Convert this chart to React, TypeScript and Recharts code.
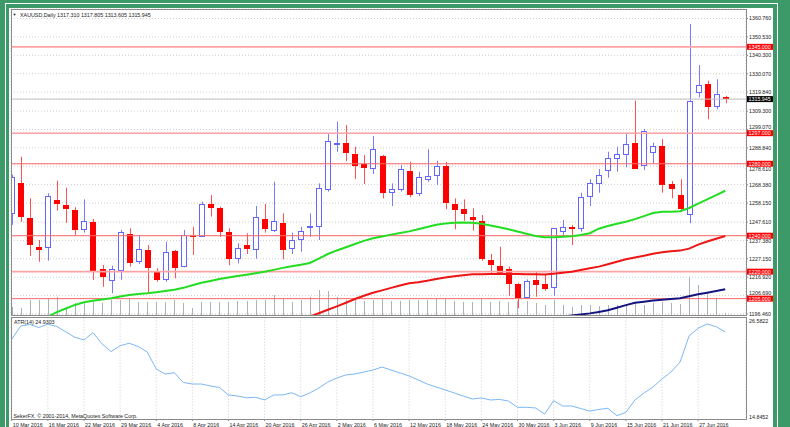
import React from 'react';
import {
  ComposedChart,
  Bar,
  Line,
  XAxis,
  YAxis,
  CartesianGrid,
  ReferenceLine,
} from 'recharts';

// XAUUSD daily, 10 Mar 2016 .. 30 Jun 2016 (one entry per bar)
const dateLabels = [
  '10 Mar 2016', '16 Mar 2016', '22 Mar 2016', '29 Mar 2016', '4 Apr 2016',
  '8 Apr 2016', '14 Apr 2016', '20 Apr 2016', '26 Apr 2016', '2 May 2016',
  '6 May 2016', '12 May 2016', '18 May 2016', '24 May 2016', '30 May 2016',
  '3 Jun 2016', '9 Jun 2016', '15 Jun 2016', '21 Jun 2016', '27 Jun 2016',
];
const labelIdx = [0, 4, 8, 12, 16, 20, 24, 28, 32, 36, 40, 44, 48, 52, 56, 60, 64, 68, 72, 76];

const opens = [
  1252.1, 1269.1, 1249.7, 1233.7, 1233.0, 1260.0, 1256.9, 1254.3, 1242.9, 1247.8,
  1221.5, 1215.0, 1220.2, 1240.8, 1225.5, 1231.9, 1220.5, 1215.2, 1231.5, 1222.8,
  1239.7, 1239.5, 1257.8, 1255.2, 1242.0, 1226.9, 1234.7, 1231.9, 1249.4, 1242.6,
  1247.2, 1232.4, 1237.6, 1244.1, 1245.0, 1265.4, 1290.4, 1291.4, 1285.4, 1279.7,
  1277.0, 1284.3, 1263.6, 1265.4, 1276.1, 1263.0, 1270.9, 1273.2, 1278.8, 1257.6,
  1254.9, 1250.6, 1248.3, 1226.5, 1223.2, 1221.7, 1213.0, 1205.5, 1215.4, 1213.0,
  1210.8, 1242.2, 1244.9, 1243.7, 1261.7, 1268.6, 1276.0, 1282.6, 1284.7, 1291.4,
  1278.9, 1285.8, 1289.9, 1268.7, 1262.6, 1251.3, 1319.3, 1324.3, 1311.4, 1317.31,
];
const highs = [
  1274.0, 1283.9, 1260.8, 1237.6, 1263.6, 1270.6, 1266.7, 1255.8, 1260.2, 1249.3,
  1223.7, 1223.3, 1243.2, 1244.1, 1240.4, 1234.8, 1221.9, 1236.7, 1232.1, 1243.2,
  1245.0, 1258.9, 1262.6, 1256.1, 1244.1, 1235.8, 1241.3, 1256.5, 1257.6, 1270.0,
  1252.4, 1241.7, 1245.0, 1252.4, 1269.1, 1296.9, 1303.4, 1301.5, 1289.5, 1284.9,
  1295.4, 1284.9, 1269.1, 1279.3, 1281.1, 1275.6, 1288.0, 1281.7, 1281.1, 1260.8,
  1260.2, 1255.2, 1251.5, 1229.8, 1233.9, 1222.8, 1213.9, 1215.7, 1220.0, 1218.1,
  1244.1, 1248.7, 1245.9, 1263.9, 1271.4, 1277.1, 1286.7, 1289.5, 1296.5, 1315.1,
  1299.3, 1291.7, 1293.8, 1270.4, 1271.4, 1357.7, 1334.9, 1326.2, 1327.0, 1317.805,
];
const lows = [
  1246.0, 1247.8, 1228.7, 1225.5, 1226.1, 1253.9, 1247.2, 1240.4, 1241.7, 1215.4,
  1211.6, 1208.0, 1215.4, 1222.8, 1224.3, 1208.3, 1214.4, 1214.4, 1216.3, 1222.4,
  1229.3, 1239.3, 1250.6, 1239.4, 1223.5, 1224.6, 1229.8, 1227.2, 1241.7, 1242.0,
  1226.9, 1229.8, 1231.1, 1239.4, 1237.6, 1264.5, 1286.7, 1281.5, 1271.5, 1268.7,
  1274.3, 1260.8, 1256.5, 1264.5, 1261.3, 1262.0, 1270.0, 1268.2, 1254.7, 1243.6,
  1248.3, 1242.8, 1226.1, 1218.1, 1218.1, 1206.5, 1199.6, 1205.0, 1206.1, 1209.4,
  1206.5, 1239.8, 1234.8, 1242.2, 1256.5, 1263.9, 1272.3, 1275.6, 1278.0, 1277.0,
  1276.5, 1280.3, 1263.9, 1260.8, 1253.3, 1246.9, 1316.9, 1304.7, 1310.3, 1313.605,
];
const closes = [
  1272.8, 1250.2, 1234.8, 1232.2, 1261.9, 1257.5, 1255.0, 1243.2, 1247.9, 1220.0,
  1217.2, 1221.3, 1241.9, 1224.6, 1232.4, 1222.2, 1215.4, 1231.1, 1222.2, 1240.2,
  1239.5, 1257.5, 1255.2, 1242.2, 1227.0, 1233.3, 1232.4, 1250.2, 1243.9, 1248.0,
  1231.9, 1237.6, 1242.8, 1245.4, 1266.4, 1292.6, 1291.4, 1286.2, 1278.9, 1277.5,
  1288.0, 1263.6, 1265.8, 1276.9, 1262.6, 1272.8, 1273.2, 1278.6, 1258.0, 1254.3,
  1252.1, 1248.7, 1226.9, 1223.9, 1219.4, 1213.0, 1205.2, 1214.8, 1212.4, 1210.5,
  1244.1, 1244.7, 1243.6, 1261.4, 1269.1, 1273.6, 1283.4, 1285.4, 1290.8, 1277.1,
  1298.0, 1289.9, 1268.2, 1265.8, 1255.0, 1314.9, 1323.6, 1311.5, 1318.6, 1315.945,
];
const volumes = [
  7800, 6900, 14700, 14600, 16700, 17600, 7900, 11800, 11700, 12800,
  11900, 14800, 14700, 15700, 12700, 12800, 12900, 12600, 14800, 11800,
  6900, 12700, 12800, 12700, 12900, 13700, 13800, 14600, 14800, 19600,
  16700, 12800, 14700, 17600, 24500, 23600, 17700, 14800, 14700, 13800,
  14700, 15600, 13700, 13800, 14800, 14600, 14700, 15800, 15600, 13800,
  12800, 12700, 15700, 12800, 13700, 12800, 13800, 13700, 11800, 9800,
  14700, 9900, 7800, 9800, 9900, 8800, 9800, 9900, 10800, 11800,
  9800, 11700, 12800, 11800, 10800, 37300, 29400, 21600, 16700, 2100,
];

// moving averages (green / red / navy)
const maFast = [
  null, null, null, null, 1195.0, 1197.5, 1199.5, 1201.5, 1203.0, 1203.8,
  1204.5, 1205.2, 1206.2, 1207.0, 1207.6, 1208.0, 1208.6, 1209.3, 1209.9, 1211.0,
  1212.4, 1213.8, 1214.8, 1215.9, 1216.8, 1217.6, 1218.3, 1219.1, 1220.0, 1221.0,
  1222.1, 1223.0, 1223.8, 1224.8, 1227.2, 1229.8, 1231.8, 1233.6, 1235.4, 1237.1,
  1238.6, 1239.6, 1240.6, 1241.5, 1242.4, 1243.6, 1244.8, 1246.1, 1246.8, 1247.2,
  1247.3, 1247.2, 1246.6, 1245.7, 1244.7, 1243.6, 1242.3, 1241.1, 1239.8, 1239.1,
  1239.2, 1239.4, 1239.7, 1240.4, 1241.4, 1243.9, 1245.4, 1246.6, 1247.8, 1249.2,
  1250.9, 1252.6, 1253.3, 1253.3, 1253.6, 1255.4, 1257.8, 1260.2, 1262.6, 1265.0,
];
const maMid = [
  null, null, null, null, null, null, null, null, null, null,
  null, null, null, null, null, null, null, null, null, null,
  null, null, null, null, null, null, null, null, null, null,
  null, null, null, 1195.0, 1196.9, 1198.8, 1200.7, 1202.7, 1204.8, 1206.6,
  1208.3, 1209.6, 1211.0, 1212.3, 1213.5, 1214.1, 1214.9, 1215.9, 1216.8, 1217.5,
  1218.0, 1218.5, 1218.6, 1218.7, 1218.7, 1218.7, 1218.7, 1218.6, 1218.5, 1218.4,
  1218.9, 1219.4, 1220.0, 1220.9, 1221.9, 1222.8, 1224.1, 1225.5, 1226.9, 1227.9,
  1228.9, 1230.0, 1230.8, 1231.3, 1231.7, 1232.8, 1235.0, 1236.8, 1238.3, 1239.8,
];
const maSlow = [
  null, null, null, null, null, null, null, null, null, null,
  null, null, null, null, null, null, null, null, null, null,
  null, null, null, null, null, null, null, null, null, null,
  null, null, null, null, null, null, null, null, null, null,
  null, null, null, null, null, null, null, null, null, null,
  null, null, null, null, null, null, null, null, null, null,
  null, 1195.0, 1195.6, 1196.2, 1196.8, 1197.6, 1198.5, 1199.9, 1201.4, 1202.7,
  1203.3, 1203.9, 1204.4, 1204.8, 1205.2, 1206.3, 1207.4, 1208.3, 1209.2, 1210.2,
];

const atrValues = [
  24.08, 25.62, 25.80, 25.45, 25.82, 25.57, 24.93, 24.31, 24.00, 24.85,
  23.54, 22.65, 23.34, 23.62, 23.25, 22.61, 20.64, 20.06, 20.21, 19.08,
  18.90, 18.90, 18.67, 18.50, 17.63, 17.51, 17.31, 17.36, 17.05, 17.63,
  17.63, 17.89, 17.43, 17.86, 18.44, 19.13, 19.60, 19.95, 20.06, 20.29,
  20.52, 20.87, 20.52, 20.18, 19.83, 19.37, 18.90, 18.55, 18.21, 17.86,
  17.51, 17.16, 17.28, 17.05, 17.11, 16.93, 16.20, 16.20, 16.12, 15.42,
  16.97, 16.35, 16.35, 16.06, 15.77, 15.95, 16.09, 15.23, 15.62, 17.05,
  17.85, 18.55, 19.48, 20.29, 21.45, 24.47, 25.36, 25.86, 25.54, 24.93,
];

const priceTicks = [
  1196.46, 1206.69, 1216.92, 1227.15, 1237.38, 1247.61, 1258.15, 1268.38, 1278.61,
  1288.84, 1299.07, 1309.3, 1319.84, 1330.07, 1340.3, 1350.53, 1360.76,
];
const priceDomain = [1195.9, 1366.05];
const atrTicks = [14.8452, 26.5822];
const levels = [1345, 1297, 1280, 1240, 1220, 1205];
const softLevels = [1345, 1297, 1220];
const lastPrice = 1315.945;
const tagTicks = [lastPrice, ...levels];

// scale labels that sit next to a tag get nudged so they peek out beside it
const labelNudge: Record<string, number> = {
  '1278.61': 3.2,
  '1299.07': -2.6,
  '1206.69': -2.8,
  '1237.38': 1,
};

const FONT = '"Liberation Sans", Arial, sans-serif';
const FS = 5.35;
const GREEN = '#3b9a68';
const FRAME = '#8a8a8a';
const GRID = '#cdcdcd';
const BULL = '#6464ff';
const BEAR = '#ff0000';
const X_MIN = -0.08;
const X_MAX = 81.3;

const rows = opens.map((open, i) => ({
  i,
  open,
  high: highs[i],
  low: lows[i],
  close: closes[i],
  vol: volumes[i],
  maFast: maFast[i],
  maMid: maMid[i],
  maSlow: maSlow[i],
  atr: atrValues[i],
}));

const Candle = (props: any) => {
  const { x, y, width, height, payload } = props;
  if (!payload || height == null) return null;
  const top = Math.min(y, y + height);
  const h = Math.abs(height);
  const { open, close, high, low } = payload;
  const k = h / (high - low);
  const yO = top + (high - open) * k;
  const yC = top + (high - close) * k;
  const px = Math.round(x + width / 2);
  const bTop = Math.round(Math.min(yO, yC));
  const bBot = Math.max(Math.round(Math.max(yO, yC)), bTop + 1);
  const up = close >= open;
  if (up) {
    return (
      <g>
        <line x1={px + 0.5} x2={px + 0.5} y1={top} y2={top + h} stroke="#7a7aff" />
        <rect x={px - 2.5} y={bTop + 0.5} width={5} height={Math.max(bBot - bTop - 1, 0)} fill="#fff" stroke={BULL} />
      </g>
    );
  }
  return (
    <g>
      <line x1={px + 0.5} x2={px + 0.5} y1={top} y2={top + h} stroke="#ff5050" />
      <rect x={px - 3} y={bTop} width={6} height={bBot - bTop} fill={BEAR} />
    </g>
  );
};

const VolumeStick = (props: any) => {
  const { x, y, width, height } = props;
  if (height == null) return null;
  const px = Math.round(x + width / 2);
  return <rect x={px} y={Math.min(y, y + height)} width={1} height={Math.abs(height)} fill="#a9b1ba" />;
};

// scale labels; the horizontal-line prices are drawn last as coloured tags on top
const PriceTick = (props: any) => {
  const { x, y, payload } = props;
  const v = Number(payload.value);
  if (tagTicks.includes(v)) {
    const bg = v === lastPrice ? '#000' : '#ff0000';
    return (
      <g>
        <rect x={x - 2} y={y - 3} width={26} height={6} fill={bg} />
        <text x={x - 0.5} y={y + 1.9} fontSize={FS} fontFamily={FONT} fill="#fff">{v.toFixed(3)}</text>
      </g>
    );
  }
  const dy = labelNudge[String(v)] || 0;
  return (
    <text x={x} y={y + 1.9 + dy} fontSize={FS} fontFamily={FONT} fill="#1a1a1a">
      {v.toFixed(3)}
    </text>
  );
};

const AtrTick = (props: any) => {
  const { x, y, payload } = props;
  const dy = payload.value === atrTicks[1] ? 5.2 : 0;
  return (
    <text x={x} y={y + dy} fontSize={FS} fontFamily={FONT} fill="#1a1a1a">
      {Number(payload.value).toFixed(4)}
    </text>
  );
};

const DateTick = (props: any) => {
  const { x, y, payload } = props;
  const k = labelIdx.indexOf(payload.value);
  return (
    <text x={x + 1} y={y + 5.5} fontSize={FS} fontFamily={FONT} fill="#1a1a1a">
      {k >= 0 ? dateLabels[k] : ''}
    </text>
  );
};

export default function App() {
  return (
    <div
      style={{
        position: 'absolute',
        left: 0,
        top: 0,
        width: 790,
        height: 427,
        background: GREEN,
        overflow: 'hidden',
      }}
    >
      <div style={{ position: 'absolute', left: 5, top: 3, width: 1, height: 424, background: '#fff' }} />
      <div style={{ position: 'absolute', left: 5, top: 3, width: 773, height: 1, background: '#fff' }} />
      <div style={{ position: 'absolute', left: 777, top: 3, width: 1, height: 424, background: '#fff' }} />
      <div style={{ position: 'absolute', left: 9, top: 8, width: 764, height: 419, background: '#fff' }} />

      {/* price panel */}
      <div style={{ position: 'absolute', left: 0, top: 0 }}>
        <ComposedChart width={790} height={316} data={rows} margin={{ top: 9, right: 0, left: 11, bottom: 1 }}>
          <CartesianGrid strokeDasharray="1 2" stroke={GRID} />
          <XAxis
            type="number"
            dataKey="i"
            domain={[X_MIN, X_MAX]}
            allowDataOverflow
            ticks={labelIdx}
            interval={0}
            height={0}
            tick={false}
            axisLine={false}
            tickLine={false}
          />
          <XAxis xAxisId="vol" type="number" dataKey="i" domain={[X_MIN, X_MAX]} allowDataOverflow hide />
          <YAxis
            orientation="right"
            width={44}
            domain={priceDomain}
            allowDataOverflow
            ticks={[...priceTicks, ...tagTicks]}
            interval={0}
            axisLine={false}
            tickSize={2}
            tickMargin={1}
            tickLine={{ stroke: FRAME }}
            tick={<PriceTick />}
          />
          <YAxis yAxisId="vol" domain={[0, 300000]} hide />
          <ReferenceLine y={lastPrice} stroke="#c4c4c4" />
          {levels.map((lv) => (
            <ReferenceLine
              key={lv}
              y={lv}
              stroke={softLevels.includes(lv) ? '#ffa4a4' : '#ff6a6a'}
              strokeWidth={softLevels.includes(lv) ? 1.6 : 1}
            />
          ))}
          <Bar
            xAxisId="vol"
            yAxisId="vol"
            dataKey="vol"
            barSize={1}
            shape={(p: any) => <VolumeStick {...p} />}
            isAnimationActive={false}
          />
          <Bar
            dataKey={(d: any) => [d.low, d.high]}
            barSize={6}
            shape={(p: any) => <Candle {...p} />}
            isAnimationActive={false}
          />
          <Line dataKey="maFast" stroke="#22dd22" strokeWidth={2} dot={false} isAnimationActive={false} />
          <Line dataKey="maMid" stroke="#ee1515" strokeWidth={2} dot={false} isAnimationActive={false} />
          <Line dataKey="maSlow" stroke="#14147f" strokeWidth={2} dot={false} isAnimationActive={false} />
        </ComposedChart>
      </div>

      {/* ATR panel */}
      <div style={{ position: 'absolute', left: 0, top: 316 }}>
        <ComposedChart width={790} height={111} data={rows} margin={{ top: 1.7, right: 0, left: 11, bottom: 0 }}>
          <CartesianGrid horizontal={false} strokeDasharray="1 2" stroke={GRID} />
          <XAxis
            type="number"
            dataKey="i"
            domain={[X_MIN, X_MAX]}
            allowDataOverflow
            ticks={labelIdx}
            interval={0}
            height={8}
            axisLine={false}
            tickSize={2}
            tickMargin={0}
            tickLine={{ stroke: FRAME }}
            tick={<DateTick />}
          />
          <YAxis
            orientation="right"
            width={44}
            domain={atrTicks}
            allowDataOverflow
            ticks={atrTicks}
            interval={0}
            axisLine={false}
            tickLine={false}
            tickMargin={3}
            tickSize={0}
            tick={<AtrTick />}
          />
          <Line dataKey="atr" stroke="#7cb6f6" strokeWidth={1} dot={false} isAnimationActive={false} />
        </ComposedChart>
      </div>

      <svg width={790} height={427} style={{ position: 'absolute', left: 0, top: 0, pointerEvents: 'none' }}>
        <rect x={11.5} y={9.5} width={735} height={306} fill="none" stroke={FRAME} />
        <rect x={11.5} y={317.5} width={735} height={102} fill="none" stroke={FRAME} />
        <text x={12.5} y={16.2} fontSize={4} fontFamily={FONT} fill="#1a1a1a">▼</text>
        <text x={20} y={16.6} fontSize={FS} fontFamily={FONT} fill="#1a1a1a">
          XAUUSD,Daily  1317.310 1317.805 1313.605 1315.945
        </text>
        <text x={14} y={323.8} fontSize={FS} fontFamily={FONT} fill="#1a1a1a">ATR(14) 24.9303</text>
        <text x={13.5} y={418.4} fontSize={FS} fontFamily={FONT} fill="#1a1a1a">
          SekerFX. © 2001-2014, MetaQuotes Software Corp.
        </text>
      </svg>
    </div>
  );
}
